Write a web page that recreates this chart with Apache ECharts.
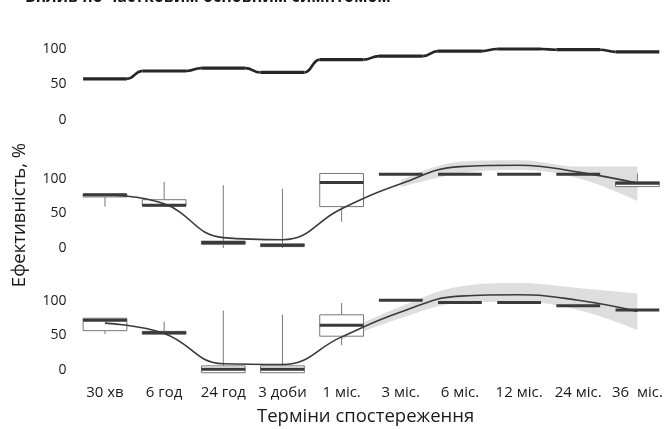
<!DOCTYPE html>
<html>
<head>
<meta charset="utf-8">
<script src="https://cdn.jsdelivr.net/npm/echarts@6/dist/echarts.min.js"></script>
<style>html,body{margin:0;padding:0;background:#fff}#c{width:667px;height:429px}</style>
</head>
<body>
<div id="c"></div>
<script>
const categories = ['30 хв', '6 год', '24 год', '3 доби', '1 міс.', '3 міс.', '6 міс.', '12 міс.', '24 міс.', '36  міс.'];
const yTicks = [0, 50, 100];

// Panel 1: median line
const p1Median = [58, 69, 73, 67, 85, 90, 97, 100, 99, 96];

// Panel 2: [min, q1, median, q3, max]
const p2Box = [
  [60, 74, 77, 78, 78],
  [61, 61, 62, 70, 96],
  [0, 5, 8, 10, 91],
  [0, 2, 4, 6, 86],
  [38, 60, 95, 108, 108],
  [107, 107, 107, 107, 107],
  [107, 107, 107, 107, 107],
  [107, 107, 107, 107, 107],
  [107, 107, 107, 107, 107],
  [89, 89, 94, 96, 108]
];
const p2Trend = [77, 64, 15, 12, 57, 93, 118, 120, 110, 94];
const p2BandLow = ['-', '-', '-', '-', '-', 88, 108, 113, 101, 68];
const p2BandHigh = ['-', '-', '-', '-', '-', 98, 125, 127, 118, 118];

// Panel 3
const p3Box = [
  [52, 57, 72, 75, 75],
  [52, 52, 54, 56, 70],
  [-4, -4, 1, 6, 86],
  [-4, -4, 1, 6, 80],
  [36, 49, 65, 80, 97],
  [101, 101, 101, 101, 101],
  [98, 98, 98, 98, 98],
  [98, 98, 98, 98, 98],
  [93, 93, 93, 93, 93],
  [87, 87, 87, 87, 87]
];
const p3Trend = [68, 53, 9, 8, 48, 84, 107, 109, 101, 85];
const p3BandLow = ['-', '-', '-', '-', 44, 75, 97, 99, 87, 58];
const p3BandHigh = ['-', '-', '-', '-', 54, 92, 121, 126, 119, 111];

const FONT = 'Open Sans';
const chart = echarts.init(document.getElementById('c'), null, {renderer: 'canvas'});

const grids = [
  {left: 75.4, width: 612, top: 49, height: 71},
  {left: 75.4, width: 612, top: 179, height: 69},
  {left: 75.4, width: 612, top: 301, height: 69}
];

function xAxis(i, show) {
  return {
    type: 'category', gridIndex: i, data: categories, boundaryGap: true,
    axisLine: {show: false}, axisTick: {show: false}, splitLine: {show: false},
    axisLabel: {show: show, interval: 0, margin: 15, color: '#1a1a1a', fontFamily: FONT, fontSize: 15}
  };
}
function yAxis(i) {
  return {
    type: 'value', gridIndex: i, min: 0, max: 100, interval: 50,
    axisLine: {show: false}, axisTick: {show: false}, splitLine: {show: false},
    axisLabel: {margin: 9, color: '#1a1a1a', fontFamily: FONT, fontSize: 14,
      formatter: v => yTicks.includes(v) ? String(v) : ''}
  };
}

function renderStep(params, api) {
  const i = params.dataIndex;
  const band = api.size([1, 0])[0];
  const w = band * 0.74;
  const p = api.coord([i, p1Median[i]]);
  const children = [{
    type: 'line', shape: {x1: p[0] - w / 2, y1: p[1], x2: p[0] + w / 2, y2: p[1]},
    style: {stroke: '#262626', lineWidth: 3.2}
  }];
  if (i < p1Median.length - 1) {
    const q = api.coord([i + 1, p1Median[i + 1]]);
    children.push({
      type: 'bezierCurve',
      shape: {x1: p[0] + w / 2, y1: p[1], x2: q[0] - w / 2, y2: q[1],
        cpx1: (p[0] + q[0]) / 2, cpy1: p[1], cpx2: (p[0] + q[0]) / 2, cpy2: q[1]},
      style: {stroke: '#262626', lineWidth: 2.6, fill: null}
    });
  }
  return {type: 'group', children};
}

function renderBox(params, api) {
  const i = api.value(0);
  const band = api.size([1, 0])[0];
  const w = band * 0.74;
  const pMin = api.coord([i, api.value(1)]);
  const pQ1 = api.coord([i, api.value(2)]);
  const pMd = api.coord([i, api.value(3)]);
  const pQ3 = api.coord([i, api.value(4)]);
  const pMax = api.coord([i, api.value(5)]);
  const cx = pMd[0];
  const children = [];
  if (pMax[1] < pQ3[1] - 0.5) children.push({type: 'line', shape: {x1: cx, y1: pMax[1], x2: cx, y2: pQ3[1]}, style: {stroke: '#777', lineWidth: 1}});
  if (pMin[1] > pQ1[1] + 0.5) children.push({type: 'line', shape: {x1: cx, y1: pQ1[1], x2: cx, y2: pMin[1]}, style: {stroke: '#777', lineWidth: 1}});
  if (pQ1[1] - pQ3[1] > 0.5) children.push({type: 'rect', shape: {x: cx - w / 2, y: pQ3[1], width: w, height: pQ1[1] - pQ3[1]}, style: {fill: '#fff', stroke: '#777', lineWidth: 1}});
  children.push({type: 'line', shape: {x1: cx - w / 2, y1: pMd[1], x2: cx + w / 2, y2: pMd[1]}, style: {stroke: '#3a3a3a', lineWidth: 3}});
  return {type: 'group', children};
}

function bandSeries(idx, low, high, name) {
  const diff = low.map((v, k) => v === '-' ? '-' : high[k] - v);
  return [
    {type: 'line', xAxisIndex: idx, yAxisIndex: idx, data: low, stack: name, smooth: 0.4, symbol: 'none',
      lineStyle: {width: 0, opacity: 0}, clip: false, silent: true, z: 1},
    {type: 'line', xAxisIndex: idx, yAxisIndex: idx, data: diff, stack: name, smooth: 0.4, symbol: 'none',
      lineStyle: {width: 0, opacity: 0}, areaStyle: {color: 'rgba(170,170,170,0.55)'}, clip: false, silent: true, z: 1}
  ];
}

function boxSeries(idx, boxes) {
  return {type: 'custom', xAxisIndex: idx, yAxisIndex: idx, renderItem: renderBox, z: 3,
    data: boxes.map((b, k) => [k].concat(b)), clip: false};
}
function trendSeries(idx, vals) {
  return {type: 'line', xAxisIndex: idx, yAxisIndex: idx, data: vals, smooth: 0.45, symbol: 'none',
    lineStyle: {color: '#3a3a3a', width: 1.6}, clip: false, z: 5};
}

const option = {
  animation: false,
  backgroundColor: '#fff',
  grid: grids,
  xAxis: [xAxis(0, false), xAxis(1, false), xAxis(2, true)],
  yAxis: [yAxis(0), yAxis(1), yAxis(2)],
  graphic: [
    {type: 'text', left: 25, top: -11, style: {text: 'Вплив по частковим основним симптомом', fontFamily: FONT, fontSize: 16, fontWeight: 'bold', fill: '#1a1a1a'}},
    {type: 'text', left: 257, top: 407, style: {text: 'Терміни спостереження', fontFamily: FONT, fontSize: 18.5, fill: '#1a1a1a'}},
    {type: 'text', x: 20, y: 215, rotation: Math.PI / 2, style: {text: 'Ефективність, %', fontFamily: FONT, fontSize: 18.5, fill: '#1a1a1a', align: 'center', verticalAlign: 'middle'}}
  ],
  series: [
    {type: 'custom', xAxisIndex: 0, yAxisIndex: 0, renderItem: renderStep, data: p1Median.map((v, k) => [k, v]), clip: false, z: 3},
    ...bandSeries(1, p2BandLow, p2BandHigh, 'b2'),
    boxSeries(1, p2Box),
    trendSeries(1, p2Trend),
    ...bandSeries(2, p3BandLow, p3BandHigh, 'b3'),
    boxSeries(2, p3Box),
    trendSeries(2, p3Trend)
  ]
};
chart.setOption(option);
</script>
</body>
</html>
